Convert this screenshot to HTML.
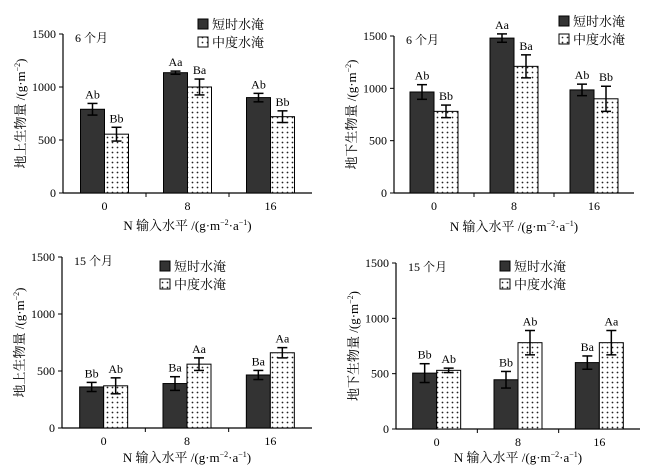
<!DOCTYPE html>
<html><head><meta charset="utf-8">
<style>
html,body{margin:0;padding:0;background:#fff;}
svg{display:block;font-family:"Liberation Serif","Noto Serif CJK SC","Noto Sans CJK SC",serif;}
</style></head>
<body>
<svg id="c" width="664" height="474" viewBox="0 0 664 474" xmlns="http://www.w3.org/2000/svg">
<defs>
<pattern id="dots" width="5" height="5" patternUnits="userSpaceOnUse">
<rect width="5" height="5" fill="#fff"/><circle cx="2.5" cy="2.5" r="0.9" fill="#222"/>
</pattern>
</defs>
</svg>
<script>
const categories = ["0","8","16"];
const yTicks = [0,500,1000,1500];
const seriesNames = ["短时水淹","中度水淹"];
const tlShort = [790,1135,900], tlShortErr = [55,15,40], tlMid = [555,1000,720], tlMidErr = [65,75,55];
const tlShortLab = ["Ab","Aa","Ab"], tlMidLab = ["Bb","Ba","Bb"];
const trShort = [965,1480,985], trShortErr = [70,40,55], trMid = [780,1210,900], trMidErr = [60,110,120];
const trShortLab = ["Ab","Aa","Ab"], trMidLab = ["Bb","Ba","Bb"];
const blShort = [360,390,465], blShortErr = [40,60,40], blMid = [370,560,660], blMidErr = [70,55,45];
const blShortLab = ["Bb","Ba","Ba"], blMidLab = ["Ab","Aa","Aa"];
const brShort = [505,445,600], brShortErr = [85,75,60], brMid = [530,780,780], brMidErr = [20,110,110];
const brShortLab = ["Bb","Bb","Ba"], brMidLab = ["Ab","Ab","Aa"];

const svg = document.getElementById('c');
const NS = "http://www.w3.org/2000/svg";
function mk(tag, attrs, parent){const e=document.createElementNS(NS,tag);for(const k in attrs)e.setAttribute(k,attrs[k]);(parent||svg).appendChild(e);return e;}

function panel(p){
  const g = mk('g',{});
  
  
  const W = p.x1 - p.x0, gw = W/categories.length, bw = 24;
  const y = v => p.y0 - v/1500*(p.y0 - p.y1);
  const cx = i => p.x0 + gw*(i+0.5);
  // axes
  const ya = mk('line',{x1:p.x0,y1:p.y1,x2:p.x0,y2:p.y0,stroke:'#000','stroke-width':1.2},g);
   
  const xa = mk('line',{x1:p.x0,y1:p.y0,x2:p.x1,y2:p.y0,stroke:'#000','stroke-width':1.2},g);
   
  yTicks.forEach(t=>{
    mk('line',{x1:p.x0-4,y1:y(t),x2:p.x0,y2:y(t),stroke:'#000'},g);
    const tx = mk('text',{x:p.x0-7,y:y(t)+4,'text-anchor':'end','font-size':12},g);
    tx.textContent = t;
     
  });
  for(let i=1;i<categories.length;i++) mk('line',{x1:p.x0+gw*i,y1:p.y0,x2:p.x0+gw*i,y2:p.y0+4,stroke:'#000'},g);
  categories.forEach((c,i)=>{
    const tx = mk('text',{x:cx(i),y:p.y0+17,'text-anchor':'middle','font-size':12},g);
    tx.textContent = c;
     
  });
  const series = [[p.s,p.se,p.sl,'#333'],[p.m,p.me,p.ml,'url(#dots)']];
  series.forEach((s,si)=>{
    s[0].forEach((v,i)=>{
      const bx = cx(i) - bw + si*bw;
      const r = mk('rect',{x:bx,y:y(v),width:bw,height:p.y0-y(v),fill:s[3],stroke:'#000','stroke-width':1},g);
      
      
      const mx = bx + bw/2, e = s[1][i];
      mk('line',{x1:mx,y1:y(v+e),x2:mx,y2:y(v-e),stroke:'#000','stroke-width':1.5},g);
      mk('line',{x1:mx-5,y1:y(v+e),x2:mx+5,y2:y(v+e),stroke:'#000','stroke-width':1.5},g);
      mk('line',{x1:mx-5,y1:y(v-e),x2:mx+5,y2:y(v-e),stroke:'#000','stroke-width':1.5},g);
      const lt = mk('text',{x:mx,y:y(v+e)-5,'text-anchor':'middle','font-size':12},g);
      lt.textContent = s[2][i];
       
    });
  });
  // title
  const tt = mk('text',{x:p.x0+12,y:p.y1+8,'font-size':12},g);
  tt.textContent = p.title;
   
  // legend
  seriesNames.forEach((n,i)=>{
    const ly = p.ly + i*18;
    const r = mk('rect',{x:p.lx,y:ly-5,width:10,height:10,fill:i?'url(#dots)':'#333',stroke:'#000'},g);
     
    const t = mk('text',{x:p.lx+14,y:ly+5,'font-size':13},g);
    t.textContent = n;
     
  });
  // axis titles
  const xt = mk('text',{x:(p.x0+p.x1)/2,y:p.xly,'text-anchor':'middle','font-size':13},g);
  xt.innerHTML = 'N 输入水平 /(g·m<tspan font-size="8" dy="-5">−2</tspan><tspan dy="5">·a</tspan><tspan font-size="8" dy="-5">−1</tspan><tspan dy="5">)</tspan>';
   
  const yc = (p.y0+p.y1)/2, yx = p.x0-38;
  const yt = mk('text',{x:yx,y:yc,'text-anchor':'middle','font-size':13,transform:`rotate(-90 ${yx} ${yc})`},g);
  yt.innerHTML = p.ylab + ' /(g·m<tspan font-size="8" dy="-5">−2</tspan><tspan dy="5">)</tspan>';
   
}

panel({name:'panel-above-6m',x0:63,x1:312,y0:193,y1:34,s:tlShort,se:tlShortErr,m:tlMid,me:tlMidErr,sl:tlShortLab,ml:tlMidLab,title:'6 个月',lx:198,ly:24,xly:230,ylab:'地上生物量'});
panel({name:'panel-below-6m',x0:394,x1:634,y0:193,y1:36,s:trShort,se:trShortErr,m:trMid,me:trMidErr,sl:trShortLab,ml:trMidLab,title:'6 个月',lx:559,ly:21,xly:231,ylab:'地下生物量'});
panel({name:'panel-above-15m',x0:62,x1:312,y0:428,y1:257,s:blShort,se:blShortErr,m:blMid,me:blMidErr,sl:blShortLab,ml:blMidLab,title:'15 个月',lx:160,ly:266,xly:462,ylab:'地上生物量'});
panel({name:'panel-below-15m',x0:396,x1:640,y0:429,y1:263,s:brShort,se:brShortErr,m:brMid,me:brMidErr,sl:brShortLab,ml:brMidLab,title:'15 个月',lx:500,ly:266,xly:462,ylab:'地下生物量'});
</script>
</body></html>
